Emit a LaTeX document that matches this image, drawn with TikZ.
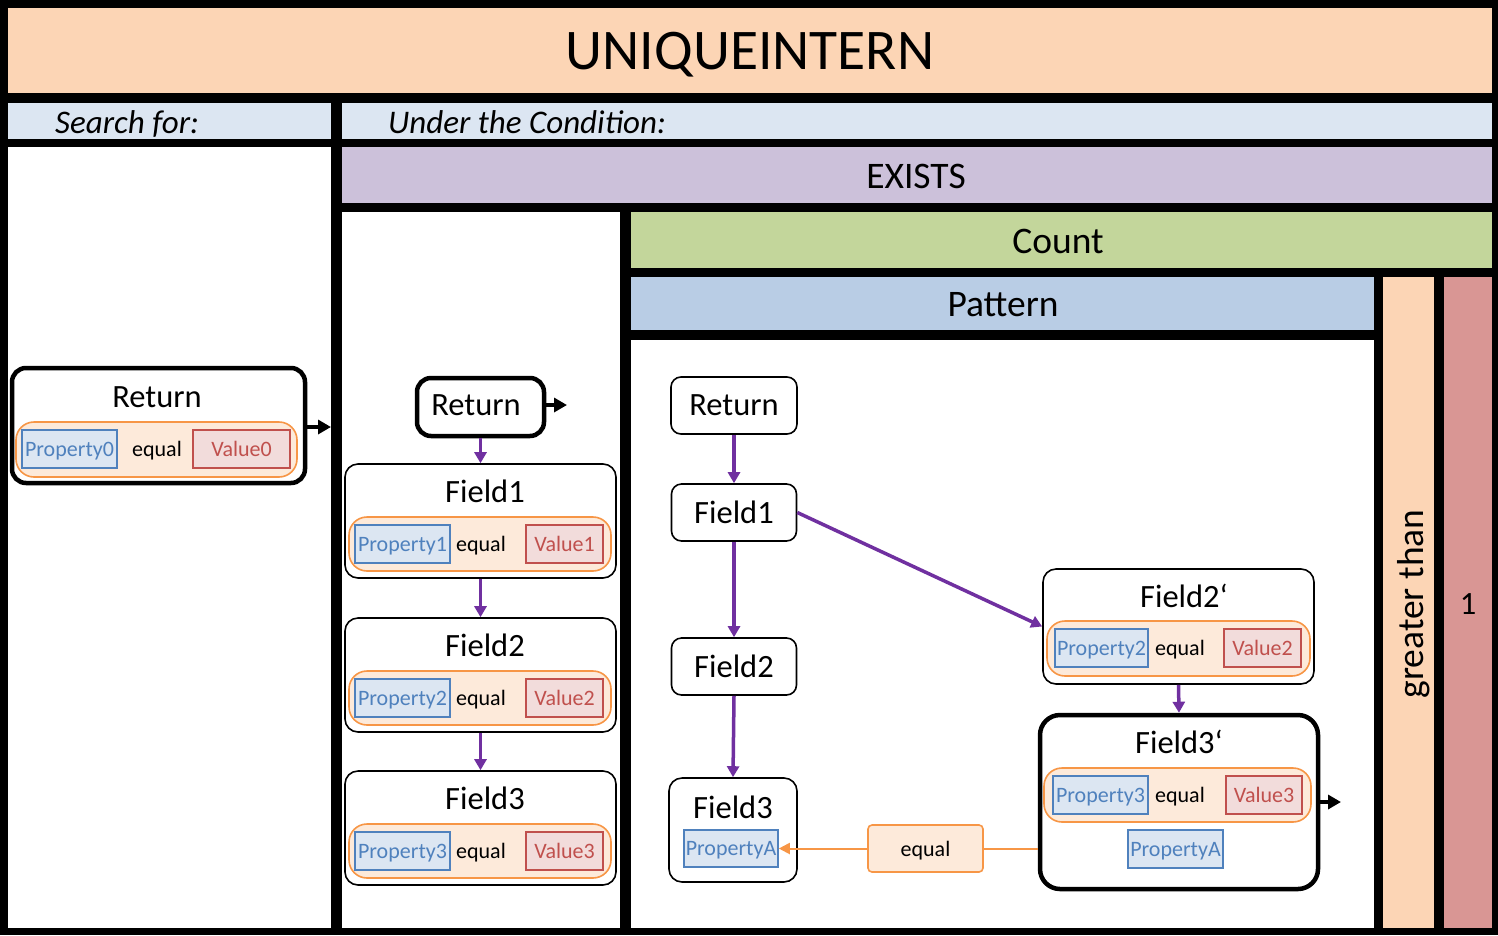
\documentclass[tikz,border=0pt]{standalone}
\usepackage{fontspec}
\setmainfont{Carlito}
\usetikzlibrary{arrows.meta,positioning,calc}
\definecolor{peach}{HTML}{FCD5B5}
\definecolor{headblue}{HTML}{DCE6F2}
\definecolor{existpurple}{HTML}{CCC1DA}
\definecolor{countgreen}{HTML}{C3D69B}
\definecolor{patblue}{HTML}{B9CDE5}
\definecolor{onerose}{HTML}{D99694}
\definecolor{condfill}{HTML}{FDEADA}
\definecolor{condline}{HTML}{F79646}
\definecolor{propblue}{HTML}{4F81BD}
\definecolor{valred}{HTML}{C0504D}
\definecolor{valfill}{HTML}{F2DCDB}
\definecolor{linkpurple}{HTML}{7030A0}

\tikzset{
  huge/.style={font=\fontsize{57.5}{62}\selectfont, text depth=0pt},
  big/.style={font=\fontsize{37.5}{42}\selectfont, text depth=0pt},
  lbl/.style={font=\fontsize{32.5}{37}\selectfont, text depth=0pt},
  head/.style={font=\fontsize{33}{37}\selectfont\itshape, text depth=0pt, anchor=west, inner sep=0pt},
  small/.style={font=\fontsize{22}{25}\selectfont, text depth=0pt, inner sep=0pt},
  fieldbox/.style={draw, line width=1.6pt, rounded corners=13pt, fill=white},
  retbox/.style={draw, line width=4.5pt, rounded corners=14pt, fill=white},
  condbox/.style={draw=condline, fill=condfill, line width=1.6pt,
    rounded corners=18pt, minimum height=54pt},
  propbox/.style={small, draw=propblue, fill=headblue, text=propblue,
    line width=1.6pt, minimum width=95pt, minimum height=38pt},
  valbox/.style={small, draw=valred, fill=valfill, text=valred,
    line width=1.6pt, minimum width=77pt, minimum height=38pt},
  link/.style={linkpurple, line width=3.5pt, -{Triangle[length=11pt,width=12pt]}},
  outarrow/.style={black, line width=4.5pt, -{Triangle[length=13pt,width=14pt]}},
  eqlink/.style={condline, line width=2pt},
}

\begin{document}
\begin{tikzpicture}[x=1pt,y=-1pt]
  \useasboundingbox (0,0) rectangle (1498,935);
  \fill[black] (0,0) rectangle (1498,935);

  % panels
  \fill[peach] (8,8) rectangle (1492,93);
  \fill[headblue] (8,103) rectangle (331,139);
  \fill[headblue] (342,103) rectangle (1492,139);
  \fill[white] (8,147) rectangle (331,928);
  \fill[existpurple] (342,147) rectangle (1492,203);
  \fill[white] (342,212) rectangle (620,928);
  \fill[countgreen] (631,212) rectangle (1492,268);
  \fill[patblue] (631,277) rectangle (1374,330);
  \fill[white] (631,340) rectangle (1374,928);
  \fill[peach] (1383,277) rectangle (1434,928);
  \fill[onerose] (1444,277) rectangle (1492,928);

  \node[huge] (title) at (750,51) {UNIQUEINTERN};
  \node[head] (search) at (55,122) {Search for:};
  \node[head] (cond) at (388,122) {Under the Condition:};
  \node[big] (exists) at (916,176) {EXISTS};
  \node[big] (count) at (1058,241) {Count};
  \node[big] (pattern) at (1003,304) {Pattern};
  \node[big, rotate=90] (greater) at (1410,604) {greater than};
  \node[lbl] (one) at (1468,604) {1};

  % search for
  \node[retbox, minimum width=293pt, minimum height=115pt] (lret) at (158.5,425.5) {};
  \node[lbl] (lrett) at (157,397) {Return};
  \node[condbox, minimum width=281pt, minimum height=55pt] (lc) at (156.5,449.5) {};
  \node[propbox] (lp) at (69.5,449) {Property0};
  \node[small] (le) at (157,449) {equal};
  \node[valbox, minimum width=97pt] (lv) at (241.5,449) {Value0};
  \coordinate (lout) at (331,427);
  \draw[outarrow] (lret.east |- lout) -- (lout);

  % exists
  \node[retbox, minimum width=127pt, minimum height=58pt] (mret) at (480.5,407) {};
  \node[lbl] (mrett) at (476,405) {Return};
  \coordinate (mout) at (567,405);
  \draw[outarrow] (mret.east |- mout) -- (mout);
  \foreach \i/\y in {1/521,2/675,3/828}{
    \node[fieldbox, minimum width=271pt, minimum height=114pt] (m\i) at (480.5,\y) {};
    \node[lbl] (mt\i) at (485,\y-30) {Field\i};
    \node[condbox, minimum width=262pt] (mc\i) at (480,\y+23) {};
    \node[propbox] (mp\i) at (402.5,\y+23) {Property\i};
    \node[small] (me\i) at (481,\y+23) {equal};
    \node[valbox] (mv\i) at (564.5,\y+23) {Value\i};
  }
  \draw[link] (mret.south) -- (m1.north);
  \draw[link] (m1.south) -- (m2.north);
  \draw[link] (m2.south) -- (m3.north);

  % pattern
  \node[fieldbox, rounded corners=10pt, minimum width=126pt, minimum height=57pt, lbl] (pret) at (734,405.5) {Return};
  \node[fieldbox, rounded corners=10pt, minimum width=125pt, minimum height=57pt, lbl] (p1) at (734,512.5) {Field1};
  \node[fieldbox, rounded corners=10pt, minimum width=125pt, minimum height=57pt, lbl] (p2) at (734,666.5) {Field2};
  \node[fieldbox, minimum width=128pt, minimum height=104pt] (p3) at (733,830) {};
  \node[lbl] (pt3) at (733,807) {Field3};
  \node[propbox, minimum width=94pt, minimum height=37pt] (pa3) at (731,848.5) {PropertyA};

  \node[fieldbox, minimum width=271pt, minimum height=115pt] (q2) at (1178.5,626.5) {};
  \node[lbl] (qt2) at (1184,596) {Field2‘};
  \node[condbox, minimum width=263pt, minimum height=55pt] (qc2) at (1178.5,648.5) {};
  \node[propbox, minimum width=93pt] (qp2) at (1101.5,648) {Property2};
  \node[small] (qe2) at (1180,648) {equal};
  \node[valbox] (qv2) at (1262.5,648) {Value2};

  \node[retbox, minimum width=278pt, minimum height=174pt, rounded corners=20pt] (q3) at (1179,802) {};
  \node[lbl] (qt3) at (1179,742) {Field3‘};
  \node[condbox, minimum width=267pt] (qc3) at (1177.5,795) {};
  \node[propbox] (qp3) at (1100.5,795) {Property3};
  \node[small] (qe3) at (1180,795) {equal};
  \node[valbox, minimum width=76pt] (qv3) at (1264,795) {Value3};
  \node[propbox] (qa3) at (1175.5,849) {PropertyA};
  \coordinate (qout) at (1341,802);
  \draw[outarrow] (q3.east) -- (qout);

  \node[small, draw=condline, fill=condfill, line width=1.6pt, rounded corners=4pt,
    minimum width=115pt, minimum height=47pt] (eqn) at (925.5,848.5) {equal};

  \draw[link] (pret.south) -- (p1.north);
  \draw[link] (p1.south) -- (p2.north);
  \draw[link] (p2.south) -- (p3.north);
  \draw[link] (p1.east) -- (q2.west);
  \draw[link] (q2.south) -- (q3.north);
  \draw[eqlink] (eqn.east -| q3.west) -- (eqn.east);
  \draw[eqlink, -{Triangle[length=11pt,width=11pt]}] (eqn.west) -- (pa3.east);
\end{tikzpicture}
\end{document}
